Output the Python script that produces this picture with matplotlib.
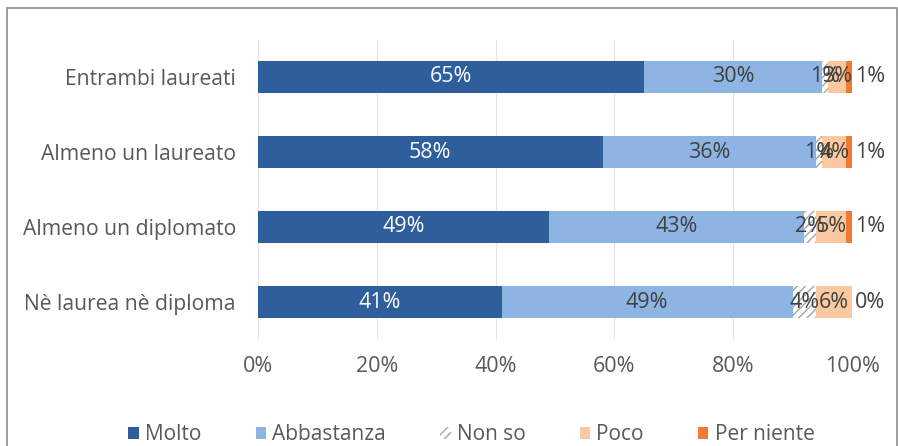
import matplotlib.pyplot as plt
from matplotlib.patches import Rectangle, Patch

plt.rcParams['font.family'] = ['Open Sans', 'DejaVu Sans']

categories = ["Nè laurea nè diploma", "Almeno un diplomato", "Almeno un laureato", "Entrambi laureati"]
series = ["Molto", "Abbastanza", "Non so", "Poco", "Per niente"]
molto = [41, 49, 58, 65]
abbastanza = [49, 43, 36, 30]
non_so = [4, 2, 1, 1]
poco = [6, 5, 4, 3]
per_niente = [0, 1, 1, 1]
ticks = [0, 20, 40, 60, 80, 100]

values = [molto, abbastanza, non_so, poco, per_niente]
colors = ["#2F5E9C", "#8EB4E3", "white", "#FAC9A1", "#EE7B30"]
hatches = [None, None, "////", None, None]
edges = [None, None, "#A6A6A6", None, None]
label_colors = ["white", "#404040", "#404040", "#404040", "#404040"]
text_grey = "#595959"

fig = plt.figure(figsize=(8.98, 4.46), dpi=100)
W, H = 898, 446
ax = fig.add_axes([258 / W, 1 - 339.5 / H, 594 / W, 300 / H])

y = list(range(len(categories)))
left = [0] * len(categories)
for vals, name, col, hat, ec, lc in zip(values, series, colors, hatches, edges, label_colors):
    bars = ax.barh(y, vals, left=left, height=0.43, color=col, hatch=hat,
                   edgecolor=ec if ec else col, linewidth=0, label=name, zorder=2)
    if name == "Per niente":
        # labels sit just past the end of the bar
        for yy, v in zip(y, vals):
            ax.text(103, yy, f"{v}%", ha='center', va='center', color=lc, fontsize=15.5, zorder=3)
    else:
        ax.bar_label(bars, labels=[f"{v}%" for v in vals], label_type='center',
                     color=lc, fontsize=15.5, zorder=3)
    left = [l + v for l, v in zip(left, vals)]

ax.set_xlim(0, 100)
ax.set_ylim(-0.5, 3.5)
ax.set_xticks(ticks)
ax.set_xticklabels([f"{t}%" for t in ticks], color=text_grey, fontsize=15.5)
ax.set_yticks(y)
ax.set_yticklabels(categories, color=text_grey, fontsize=15.2)
ax.tick_params(axis='x', length=0, pad=12)
ax.tick_params(axis='y', length=0, pad=16)
ax.grid(axis='x', color="#E4E4E4", linewidth=0.8, zorder=0)
for s in ax.spines.values():
    s.set_visible(False)

handles = [Patch(facecolor=c, edgecolor=(e if e else c), hatch=h, linewidth=0)
           for c, e, h in zip(colors, edges, hatches)]
fig.legend(handles, series, loc='center', bbox_to_anchor=(0.525, 1 - 435 / H),
           ncol=5, frameon=False, fontsize=15, labelcolor=text_grey,
           handlelength=0.5, handleheight=0.5, handletextpad=0.3, columnspacing=2.6)

fig.patches.append(Rectangle((7 / W, -0.1), 890 / W, 1.1 - 8 / H, transform=fig.transFigure,
                             fill=False, edgecolor="#8C8C8C", linewidth=1.2))

fig.savefig("out.png", dpi=100)
